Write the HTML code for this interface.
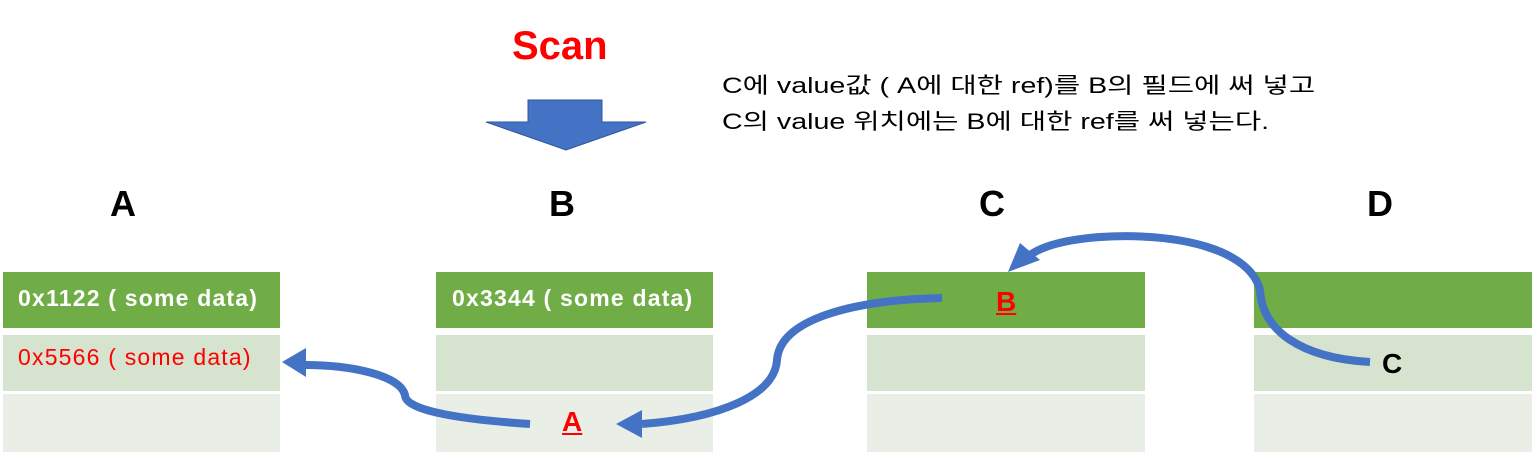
<!DOCTYPE html>
<html><head><meta charset="utf-8"><style>
body{margin:0;width:1537px;height:469px;background:#fff;position:relative;overflow:hidden;font-family:"Liberation Sans","Noto Sans CJK KR",sans-serif}
.b{position:absolute}
.g{background:#70ad47}.l{background:#d6e3ce}.x{background:#e9efe6}
.t{position:absolute;font-size:20px;font-weight:bold;white-space:nowrap}
.h{position:absolute;font-size:36px;font-weight:bold;color:#000;width:100px;text-align:center;top:183px}
.lab{font-size:23px;letter-spacing:1.2px}
</style></head><body>
<div class="t" style="left:512px;top:24px;font-size:40px;color:#f00">Scan</div>
<div class="b" style="left:722px;top:68px;font-size:22px;line-height:36px;color:#000;white-space:nowrap;transform:scaleX(1.3);transform-origin:0 0">C에 value값 ( A에 대한 ref)를 B의 필드에 써 넣고<br>C의 value 위치에는 B에 대한 ref를 써 넣는다.</div>
<div class="h" style="left:73px">A</div>
<div class="h" style="left:512px">B</div>
<div class="h" style="left:942px">C</div>
<div class="h" style="left:1330px">D</div>
<div class="b g" style="left:3px;top:272px;width:277px;height:56px"></div>
<div class="b l" style="left:3px;top:335px;width:277px;height:56px"></div>
<div class="b x" style="left:3px;top:394px;width:277px;height:58px"></div>
<div class="b g" style="left:436px;top:272px;width:277px;height:56px"></div>
<div class="b l" style="left:436px;top:335px;width:277px;height:56px"></div>
<div class="b x" style="left:436px;top:394px;width:277px;height:58px"></div>
<div class="b g" style="left:867px;top:272px;width:278px;height:56px"></div>
<div class="b l" style="left:867px;top:335px;width:278px;height:56px"></div>
<div class="b x" style="left:867px;top:394px;width:278px;height:58px"></div>
<div class="b g" style="left:1254px;top:272px;width:278px;height:56px"></div>
<div class="b l" style="left:1254px;top:335px;width:278px;height:56px"></div>
<div class="b x" style="left:1254px;top:394px;width:278px;height:58px"></div>
<div class="t lab" style="left:18px;top:285px;color:#fff">0x1122 ( some data)</div>
<div class="t lab" style="left:452px;top:285px;color:#fff">0x3344 ( some data)</div>
<div class="t lab" style="left:18px;top:344px;color:#f00;font-weight:normal">0x5566 ( some data)</div>
<div class="t" style="left:562px;top:406px;color:#f00;font-size:28px;text-decoration:underline">A</div>
<div class="t" style="left:996px;top:286px;color:#f00;font-size:28px;text-decoration:underline">B</div>
<div class="t" style="left:1382px;top:348px;color:#000;font-size:28px">C</div>
<svg class="b" style="left:0;top:0" width="1537" height="469">
<polygon points="528,100 602,100 602,122 646,122 566,150 486,122 528,122" fill="#4472c4" stroke="#2f5597" stroke-width="1"/>
<g fill="none" stroke="#4472c4" stroke-width="8">
<path d="M1370,362 C1300,358 1262,330 1260,290 C1250,250 1180,232 1100,237 C1060,240 1040,248 1030,255"/>
<path d="M942,298 C850,300 780,320 777,360 C775,395 720,418 642,424"/>
<path d="M530,424 C470,420 405,412 405,395 C400,375 350,365 305,365"/>
</g>
<g fill="#4472c4">
<polygon points="1008,272 1020,243 1040,260"/>
<polygon points="616,424 642,410 642,438"/>
<polygon points="282,362 306,348 306,377"/>
</g>
</svg>
</body></html>
